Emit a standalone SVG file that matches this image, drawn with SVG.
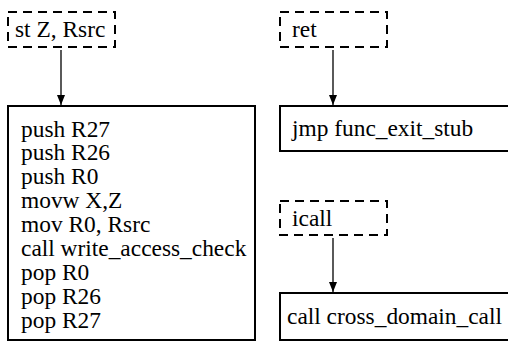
<svg xmlns="http://www.w3.org/2000/svg" width="508" height="341" viewBox="0 0 508 341">
<style>
.dash{fill:#fff;stroke:#000;stroke-width:2;stroke-dasharray:9 6}
.box{fill:#fff;stroke:#000;stroke-width:2}
.edge{stroke:#000;stroke-width:1.3;fill:none}
</style>
<defs>
<marker id="ah" viewBox="0 0 10 8" refX="10" refY="4" markerWidth="10" markerHeight="8" markerUnits="userSpaceOnUse" orient="auto">
<path d="M0,0 L10,4 L0,8 z" fill="#000"/>
</marker>
</defs>
<g id="connectors">
<line class="edge" x1="61" y1="50" x2="61" y2="105" marker-end="url(#ah)"/>
<line class="edge" x1="333" y1="50" x2="333" y2="105" marker-end="url(#ah)"/>
<line class="edge" x1="333" y1="238" x2="333" y2="292" marker-end="url(#ah)"/>
</g>
<g font-family="Liberation Serif, Times New Roman, serif" font-size="23.4" fill="#000">
<g id="n_st">
<rect class="dash" x="8" y="12" width="107" height="35"/>
<text x="15" y="37">st Z, Rsrc</text>
</g>
<g id="n_ret">
<rect class="dash" x="280" y="12" width="107" height="35"/>
<text x="292" y="37">ret</text>
</g>
<g id="n_icall">
<rect class="dash" x="280" y="201" width="107" height="34"/>
<text x="292" y="226">icall</text>
</g>
<g id="n_seq">
<rect class="box" x="8" y="106" width="247" height="234"/>
<text x="21" y="136.5">push R27</text>
<text x="21" y="160.4">push R26</text>
<text x="21" y="184.3">push R0</text>
<text x="21" y="208.2">movw X,Z</text>
<text x="21" y="232.1">mov R0, Rsrc</text>
<text x="21" y="256">call write_access_check</text>
<text x="21" y="279.9">pop R0</text>
<text x="21" y="303.8">pop R26</text>
<text x="21" y="327.7">pop R27</text>
</g>
<g id="n_jmp">
<rect class="box" x="280" y="106" width="240" height="45"/>
<text x="292" y="136">jmp func_exit_stub</text>
</g>
<g id="n_call">
<rect class="box" x="280" y="293" width="240" height="47"/>
<text x="287" y="324">call cross_domain_call</text>
</g>
</g>
</svg>
